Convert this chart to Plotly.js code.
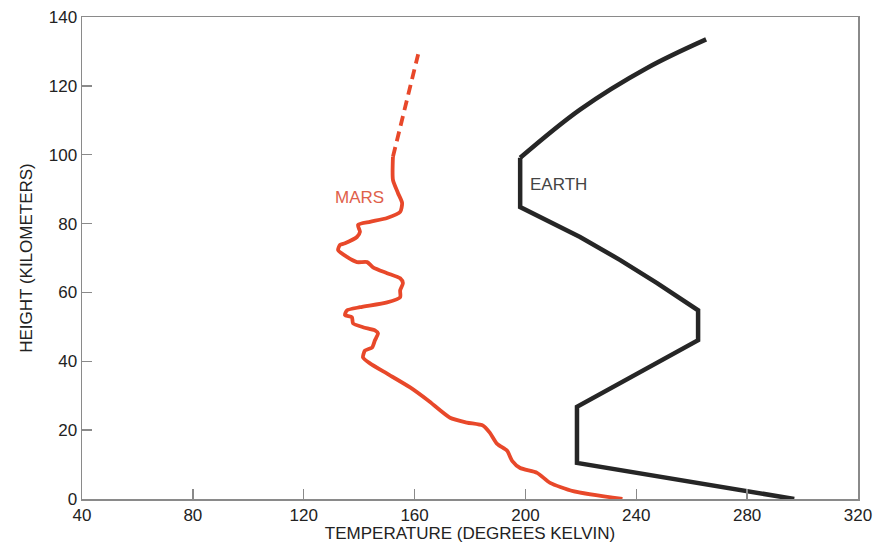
<!DOCTYPE html>
<html>
<head>
<meta charset="utf-8">
<script src="https://cdn.plot.ly/plotly-3.0.1.min.js"></script>
<style>html,body{margin:0;padding:0;background:#fff;}#chart{width:879px;height:543px;}</style>
</head>
<body>
<div id="chart"></div>
<script>
// Mars temperature profile (solid part), bottom to top
const marsTemp = [235, 217.2, 208.9, 204.2, 198.1, 195.2, 193.4, 189.8, 187.2, 184.7, 178.9, 172.8, 164.9, 158.4, 150.1, 143.9, 141.4, 142.1, 144.7, 145.7, 146.8, 145.7, 141.4, 137.8, 137.4, 134.9, 135.6, 140.3, 150.1, 154.8, 154.8, 155.8, 154.8, 150.1, 145.0, 142.9, 139.2, 135.6, 132.4, 133.1, 134.9, 139.2, 140.3, 139.6, 143.9, 150.1, 154.8, 155.5, 154.0, 152.2, 152.2];
const marsHeight = [0, 2.3, 4.7, 7.6, 9.0, 11.1, 14.0, 16.0, 19.2, 21.3, 22.2, 23.6, 28.6, 32.4, 36.4, 39.4, 41.1, 43.1, 44.0, 46.1, 48.1, 49.0, 49.9, 51.0, 52.8, 53.4, 54.8, 55.7, 57.1, 58.6, 60.6, 62.7, 64.1, 65.6, 67.3, 68.8, 68.8, 70.3, 72.3, 73.8, 74.3, 76.1, 77.6, 79.6, 80.5, 81.6, 83.4, 86.0, 88.9, 92.7, 99.4];
// Mars extrapolated (dashed) part
const marsDashTemp = [152.2, 161.3];
const marsDashHeight = [99.4, 129.2];
// Earth temperature profile: lower (straight segments) and upper (thermosphere curve)
const earthLowTemp = [297, 218.6, 218.6, 262.3, 262.3, 247.5, 234.2, 219.7, 198.1, 198.1];
const earthLowHeight = [0, 10.5, 26.8, 46.1, 54.8, 62.7, 69.4, 76.1, 84.8, 99.1];
const earthHighTemp = [198.1, 219.7, 243.9, 265.2];
const earthHighHeight = [99.1, 113.1, 125.2, 133.5];
// Labels
const labelText = ["MARS", "EARTH"];
const labelTemp = [140.3, 211.8];
const labelHeight = [87.5, 91.3];
const labelColor = ["#e0604a", "#444444"];
const xTicks = [40, 80, 120, 160, 200, 240, 280, 320];
const yTicks = [0, 20, 40, 60, 80, 100, 120, 140];

const marsColor = "#e8482a";
const earthColor = "#262626";
const fontFam = "Liberation Sans, Arial, sans-serif";

const traces = [
  {x: marsTemp, y: marsHeight, mode: "lines", line: {color: marsColor, width: 3.8, shape: "spline", smoothing: 0.6}, hoverinfo: "skip"},
  {x: marsDashTemp, y: marsDashHeight, mode: "lines", line: {color: marsColor, width: 3.8, dash: "10px,6px"}, hoverinfo: "skip"},
  {x: earthLowTemp, y: earthLowHeight, mode: "lines", line: {color: earthColor, width: 4.5}, hoverinfo: "skip"},
  {x: earthHighTemp, y: earthHighHeight, mode: "lines", line: {color: earthColor, width: 4.5, shape: "spline", smoothing: 1}, hoverinfo: "skip"}
];

const annotations = labelText.map((t, i) => ({
  x: labelTemp[i], y: labelHeight[i], xref: "x", yref: "y", text: t, showarrow: false,
  font: {family: fontFam, size: 17, color: labelColor[i]}
}));

const axisCommon = {
  showgrid: false, zeroline: false, showline: true, linecolor: "#8a8a8a", linewidth: 1.5,
  mirror: true, ticks: "inside", ticklen: 10, tickwidth: 1.5, tickcolor: "#8a8a8a",
  tickfont: {family: fontFam, size: 17, color: "#222"}
};

const layout = {
  width: 879, height: 543,
  margin: {l: 82, r: 21, t: 17, b: 44},
  paper_bgcolor: "#fff", plot_bgcolor: "#fff",
  showlegend: false,
  xaxis: Object.assign({}, axisCommon, {
    range: [40, 320], tickvals: xTicks, ticktext: xTicks.map(String),
    title: {text: "TEMPERATURE (DEGREES KELVIN)", standoff: 3, font: {family: fontFam, size: 17, color: "#222"}},
    automargin: false
  }),
  yaxis: Object.assign({}, axisCommon, {
    range: [0, 140], tickvals: yTicks, ticktext: yTicks.map(String),
    title: {text: "HEIGHT (KILOMETERS)", standoff: 12, font: {family: fontFam, size: 17, color: "#222"}},
    automargin: false
  }),
  annotations: annotations
};

Plotly.newPlot("chart", traces, layout, {displayModeBar: false, staticPlot: true});
</script>
</body>
</html>
